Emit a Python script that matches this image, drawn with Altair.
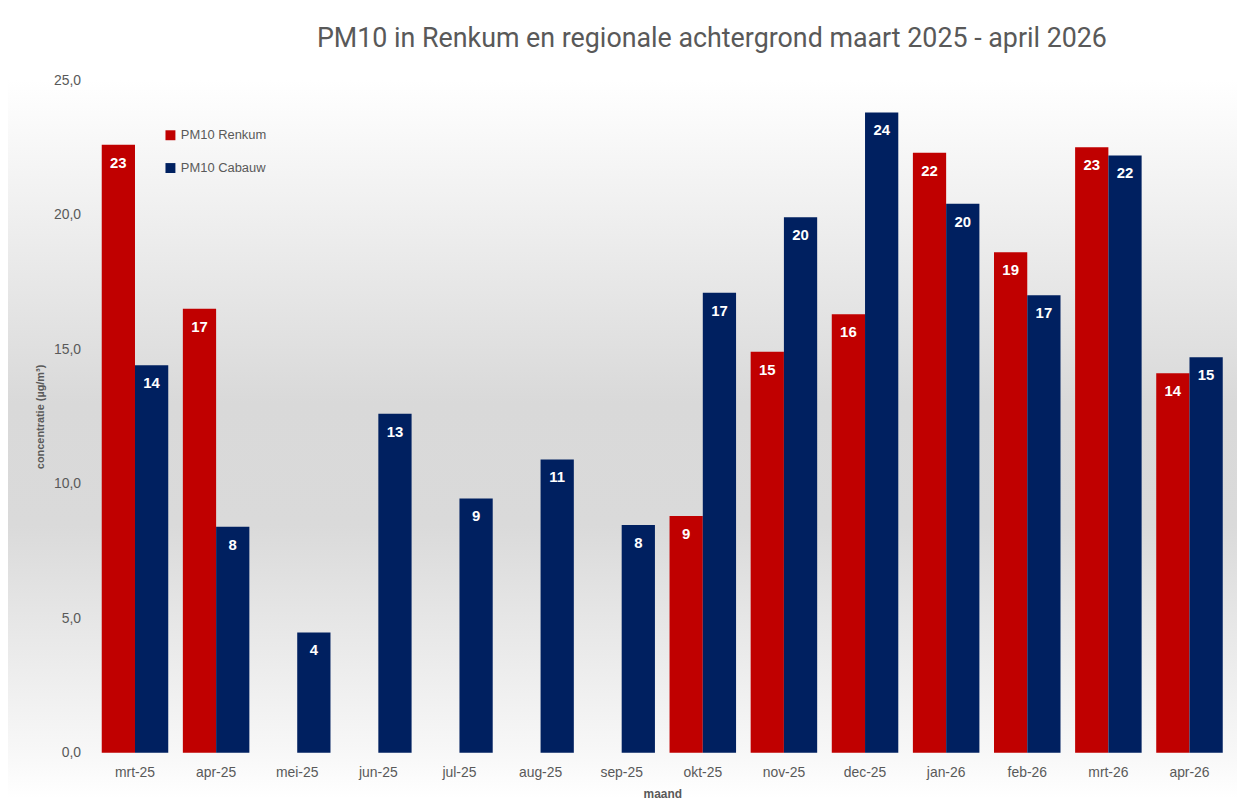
import altair as alt
import pandas as pd

months = ["mrt-25", "apr-25", "mei-25", "jun-25", "jul-25", "aug-25", "sep-25",
          "okt-25", "nov-25", "dec-25", "jan-26", "feb-26", "mrt-26", "apr-26"]
renkum = [22.6, 16.5, None, None, None, None, None, 8.8, 14.9, 16.3, 22.3, 18.6, 22.5, 14.1]
cabauw = [14.4, 8.4, 4.47, 12.6, 9.45, 10.9, 8.46, 17.1, 19.9, 23.8, 20.4, 17.0, 22.2, 14.7]
series = ["PM10 Renkum", "PM10 Cabauw"]
colors = ["#C00000", "#002060"]
y_ticks = [0, 5, 10, 15, 20, 25]

rows = []
for m, r, c in zip(months, renkum, cabauw):
    if r is not None:
        rows.append({"month": m, "series": series[0], "value": r})
    if c is not None:
        rows.append({"month": m, "series": series[1], "value": c})
df = pd.DataFrame(rows)

W, H = 1143, 677
PL, PT, PR, PB = 87, 70, 7, 46
FONT = "Liberation Sans"
GRAY = "#595959"

gradient = {
    "gradient": "linear", "x1": 0, "y1": 0, "x2": 0, "y2": 1,
    "stops": [
        {"offset": 0.0, "color": "#ffffff"},
        {"offset": 0.45, "color": "#d9d9d9"},
        {"offset": 0.62, "color": "#dadada"},
        {"offset": 0.93, "color": "#f7f7f7"},
        {"offset": 1.0, "color": "#ffffff"},
    ],
}

bg = alt.Chart(pd.DataFrame({"a": [0]})).mark_rect(fill=gradient).encode(
    x=alt.value(-PL), x2=alt.value(W + PR), y=alt.value(0), y2=alt.value(H + PB)
)

x_enc = alt.X(
    "month:N", sort=months,
    scale=alt.Scale(paddingInner=0.18, paddingOuter=0.09),
    axis=alt.Axis(title="maand", labelAngle=0, domain=False, ticks=False, tickSize=0,
                  labelPadding=13, labelFontSize=14, labelColor=GRAY, labelFont=FONT,
                  titleFont=FONT, titleFontSize=12, titleFontWeight="bold", titleColor=GRAY,
                  titlePadding=9, zindex=1),
)
xo_enc = alt.XOffset("series:N", sort=series, scale=alt.Scale(domain=series, padding=0))
y_enc = alt.Y(
    "value:Q",
    scale=alt.Scale(domain=[0, 25], nice=False),
    axis=alt.Axis(title="concentratie (µg/m³)", values=y_ticks,
                  labelExpr="replace(format(datum.value, '.1f'), '.', ',')",
                  grid=False, domain=False, ticks=False, tickSize=0, labelPadding=14,
                  labelFontSize=14, labelColor=GRAY, labelFont=FONT,
                  titleFont=FONT, titleFontSize=11, titleFontWeight="bold", titleColor=GRAY,
                  titlePadding=8, zindex=1),
)

bars = alt.Chart(df).mark_bar().encode(
    x=x_enc, xOffset=xo_enc, y=y_enc,
    color=alt.Color("series:N", scale=alt.Scale(domain=series, range=colors),
                    legend=alt.Legend(title=None, orient="none", legendX=70, legendY=49,
                                      symbolType="square", symbolSize=100, symbolStrokeWidth=0,
                                      labelFontSize=13, labelColor=GRAY, labelFont=FONT,
                                      rowPadding=19, padding=0)),
)

labels = alt.Chart(df).mark_text(
    color="white", fontWeight="bold", fontSize=15, font=FONT, baseline="middle", dy=18
).encode(
    x=alt.X("month:N", sort=months), xOffset=xo_enc, y="value:Q",
    text=alt.Text("value:Q", format=".0f"),
)

chart = alt.layer(bg, bars, labels).properties(
    width=W, height=H,
    autosize=alt.AutoSizeParams(type="none"),
    padding={"left": PL, "top": PT, "right": PR, "bottom": PB},
    title=alt.TitleParams(
        "PM10 in Renkum en regionale achtergrond maart 2025 - april 2026",
        font="Roboto", fontSize=27, fontWeight="normal", color=GRAY,
        anchor="middle", dx=50, offset=20,
    ),
).configure_view(stroke=None).configure(background="white")

chart.save("out.html", embed_options={"renderer": "svg", "actions": False})
